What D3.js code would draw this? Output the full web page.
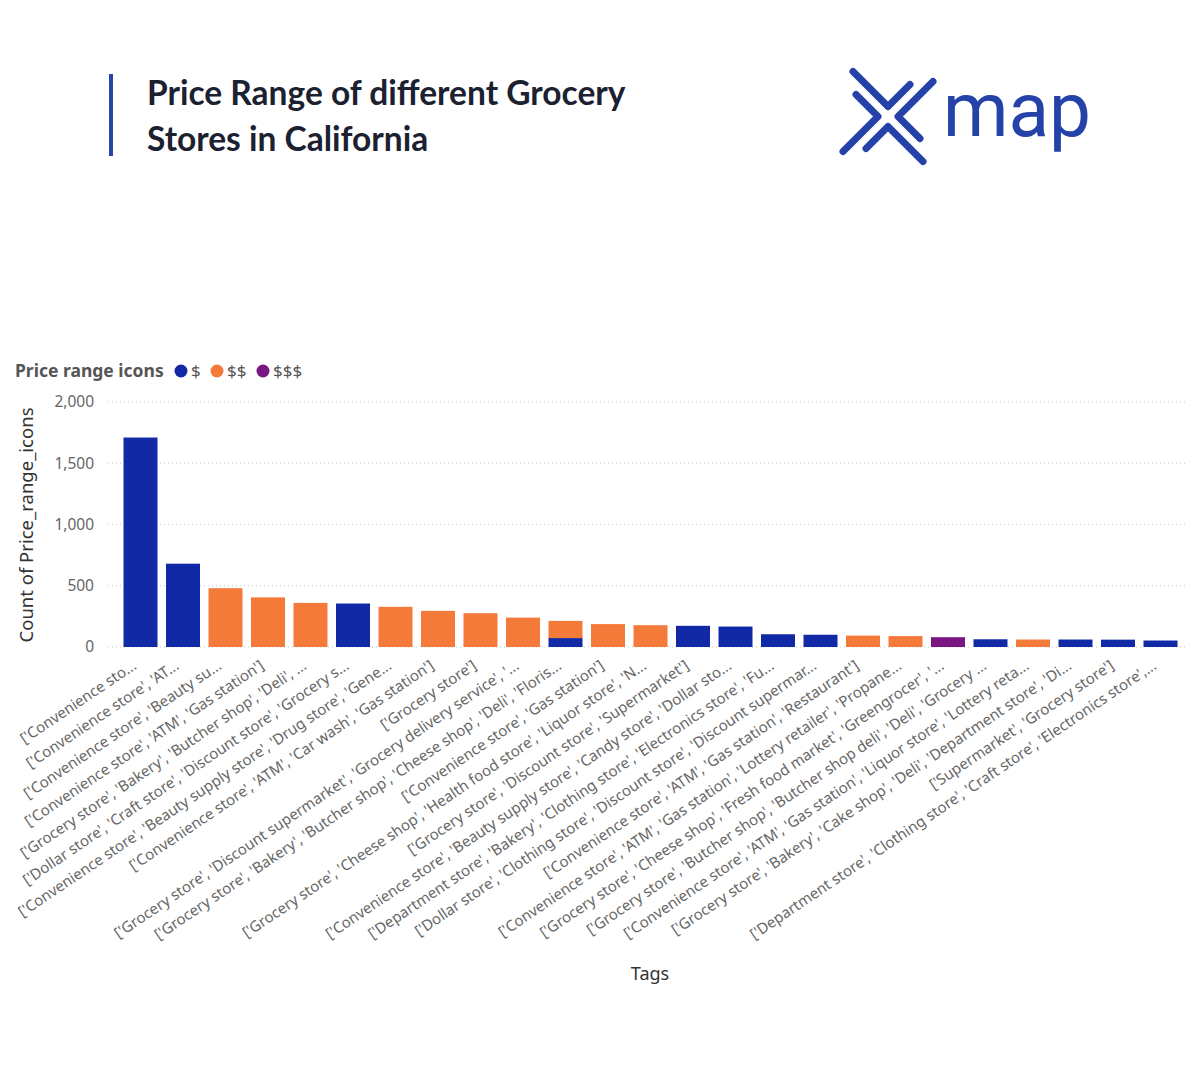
<!DOCTYPE html>
<html>

<head>
    <meta charset="UTF-8">
    <script src="https://d3js.org/d3.v7.min.js"></script>
    <style>
        body {
            margin: 0;
            background: #fff;
        }

        text {
            font-family: "Noto Sans", "Open Sans", sans-serif;
        }

        .tick-label {
            font-size: 15.5px;
            fill: #666;
        }

        .x-label {
            font-size: 15px;
            fill: #666;
        }
    </style>
</head>

<body>
    <svg width="1200" height="1080"></svg>

    <script>

        let width = 1200, height = 1080;

        // data
        let tags = [
            "['Convenience sto...",
            "['Convenience store', 'AT...",
            "['Convenience store', 'Beauty su...",
            "['Convenience store', 'ATM', 'Gas station']",
            "['Grocery store', 'Bakery', 'Butcher shop', 'Deli', ...",
            "['Dollar store', 'Craft store', 'Discount store', 'Grocery s...",
            "['Convenience store', 'Beauty supply store', 'Drug store', 'Gene...",
            "['Convenience store', 'ATM', 'Car wash', 'Gas station']",
            "['Grocery store']",
            "['Grocery store', 'Discount supermarket', 'Grocery delivery service', '...",
            "['Grocery store', 'Bakery', 'Butcher shop', 'Cheese shop', 'Deli', 'Floris...",
            "['Convenience store', 'Gas station']",
            "['Grocery store', 'Cheese shop', 'Health food store', 'Liquor store', 'N...",
            "['Grocery store', 'Discount store', 'Supermarket']",
            "['Convenience store', 'Beauty supply store', 'Candy store', 'Dollar sto...",
            "['Department store', 'Bakery', 'Clothing store', 'Electronics store', 'Fu...",
            "['Dollar store', 'Clothing store', 'Discount store', 'Discount supermar...",
            "['Convenience store', 'ATM', 'Gas station', 'Restaurant']",
            "['Convenience store', 'ATM', 'Gas station', 'Lottery retailer', 'Propane...",
            "['Grocery store', 'Cheese shop', 'Fresh food market', 'Greengrocer', '...",
            "['Grocery store', 'Butcher shop', 'Butcher shop deli', 'Deli', 'Grocery ...",
            "['Convenience store', 'ATM', 'Gas station', 'Liquor store', 'Lottery reta...",
            "['Grocery store', 'Bakery', 'Cake shop', 'Deli', 'Department store', 'Di...",
            "['Supermarket', 'Grocery store']",
            "['Department store', 'Clothing store', 'Craft store', 'Electronics store',..."
        ];
        let priceOne = [1710, 680, 0, 0, 0, 355, 0, 0, 0, 0, 73, 0, 0, 173, 167, 104, 100, 0, 0, 0, 63, 0, 61, 60, 53];
        let priceTwo = [0, 0, 480, 405, 360, 0, 328, 295, 276, 240, 140, 187, 178, 0, 0, 0, 0, 93, 89, 0, 0, 61, 0, 0, 0];
        let priceThree = [0, 0, 0, 0, 0, 0, 0, 0, 0, 0, 0, 0, 0, 0, 0, 0, 0, 0, 0, 80, 0, 0, 0, 0, 0];
        let seriesNames = ["$", "$$", "$$$"];
        let colors = ["#1129a5", "#f47a3a", "#7a1582"];
        let yTicks = [0, 500, 1000, 1500, 2000];

        let rows = tags.map((t, i) => ({
            tag: t,
            "$": priceOne[i],
            "$$": priceTwo[i],
            "$$$": priceThree[i]
        }));

        let svg = d3.select("svg")
            .attr("viewBox", "0 0 " + width + " " + height);

        svg.append("rect")
            .attr("width", width)
            .attr("height", height)
            .attr("fill", "#fff");

        // title block
        svg.append("rect")
            .attr("x", 109)
            .attr("y", 74)
            .attr("width", 4)
            .attr("height", 82)
            .attr("fill", "#2a45a8");

        let title = svg.append("text")
            .style("font-family", "Lato, sans-serif")
            .style("font-weight", 700)
            .style("font-size", "33.5px")
            .attr("fill", "#1b2131");
        title.append("tspan").attr("x", 147).attr("y", 105).text("Price Range of different Grocery");
        title.append("tspan").attr("x", 147).attr("y", 151).text("Stores in California");

        // logo
        let logo = svg.append("g").attr("transform", "translate(888,116.5)");
        let chevron = [[-35, -45], [0, -10], [22, -32]];
        [0, 90, 180, 270].forEach(a => {
            logo.append("path")
                .attr("d", d3.line()(chevron))
                .attr("transform", "rotate(" + a + ")")
                .attr("fill", "none")
                .attr("stroke", "#2442a8")
                .attr("stroke-width", 7)
                .attr("stroke-linecap", "round")
                .attr("stroke-linejoin", "round");
        });
        svg.append("text")
            .attr("x", 943)
            .attr("y", 136)
            .attr("textLength", 148)
            .attr("lengthAdjust", "spacingAndGlyphs")
            .style("font-family", "Roboto, sans-serif")
            .style("font-weight", 400)
            .style("font-size", "76px")
            .attr("fill", "#2442a8")
            .text("map");

        // scales
        let x = d3.scaleBand()
            .domain(tags)
            .range([115, 1186])
            .paddingInner(0.2)
            .paddingOuter(0.2);

        let y = d3.scaleLinear()
            .domain([0, 2000])
            .range([647, 402]);

        // gridlines
        svg.append("g")
            .selectAll("line")
            .data(yTicks)
            .enter().append("line")
            .attr("x1", 108)
            .attr("x2", 1186)
            .attr("y1", d => y(d))
            .attr("y2", d => y(d))
            .attr("stroke", "#c8c8c8")
            .attr("stroke-dasharray", "1,3");

        // y axis
        let yAxis = svg.append("g")
            .attr("transform", "translate(96,0)")
            .call(d3.axisLeft(y).tickValues(yTicks).tickFormat(d3.format(",")).tickSize(0).tickPadding(2));
        yAxis.select(".domain").remove();
        yAxis.selectAll("text")
            .attr("class", "tick-label")
            .style("font-family", "'Noto Sans', sans-serif");

        svg.append("text")
            .attr("transform", "translate(33,525) rotate(-90)")
            .attr("text-anchor", "middle")
            .style("font-size", "18.5px")
            .attr("fill", "#333")
            .text("Count of Price_range_icons");

        // stacked bars
        let stacked = d3.stack().keys(seriesNames)(rows);

        svg.append("g")
            .selectAll("g")
            .data(stacked)
            .enter().append("g")
            .attr("fill", (d, i) => colors[i])
            .selectAll("rect")
            .data(d => d.filter(p => p[1] > p[0]))
            .enter().append("rect")
            .attr("x", d => x(d.data.tag))
            .attr("y", d => y(d[1]))
            .attr("width", x.bandwidth())
            .attr("height", d => y(d[0]) - y(d[1]));

        // x labels
        svg.append("g")
            .selectAll("text")
            .data(tags)
            .enter().append("text")
            .attr("class", "x-label")
            .attr("text-anchor", "end")
            .attr("transform", d => "translate(" + (x(d) + x.bandwidth() / 2 - 3) + ",668) rotate(-34)")
            .text(d => d);

        svg.append("text")
            .attr("x", 650)
            .attr("y", 980)
            .attr("text-anchor", "middle")
            .style("font-size", "18px")
            .attr("fill", "#333")
            .text("Tags");

        // legend
        let legend = svg.append("g");
        legend.append("text")
            .attr("x", 15)
            .attr("y", 377)
            .style("font-size", "17.5px")
            .style("font-weight", 700)
            .attr("fill", "#555")
            .text("Price range icons");

        let legendX = [181, 217, 263];
        seriesNames.forEach((s, i) => {
            legend.append("circle")
                .attr("cx", legendX[i])
                .attr("cy", 371)
                .attr("r", 6.5)
                .attr("fill", colors[i]);
            legend.append("text")
                .attr("x", legendX[i] + 10)
                .attr("y", 377)
                .style("font-size", "17px")
                .attr("fill", "#555")
                .text(s);
        });

    </script>

</body>

</html>
